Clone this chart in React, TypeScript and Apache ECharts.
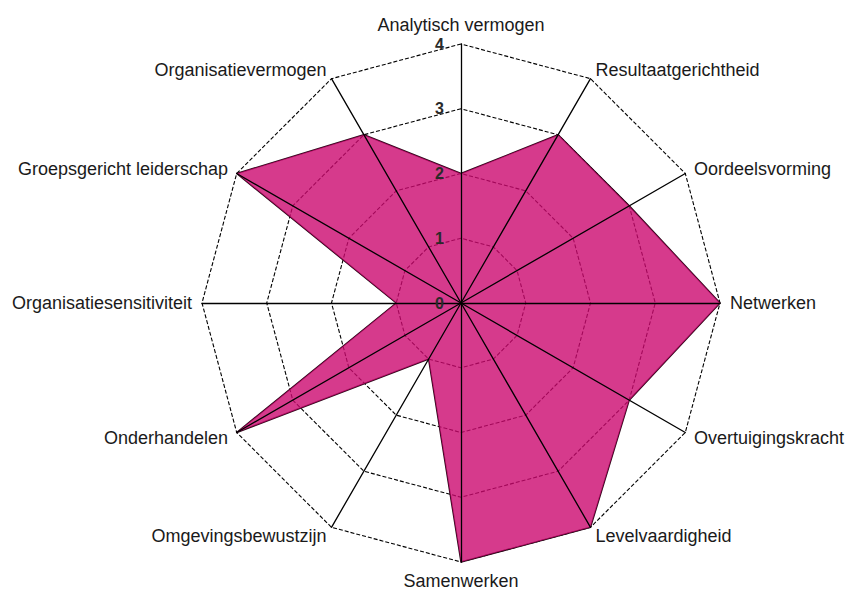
import React, { useEffect, useRef } from "react";
import * as echarts from "echarts";

// Indicators listed counter-clockwise from the top (ECharts radar order)
const indicatorNames = [
  "Analytisch vermogen",
  "Organisatievermogen",
  "Groepsgericht leiderschap",
  "Organisatiesensitiviteit",
  "Onderhandelen",
  "Omgevingsbewustzijn",
  "Samenwerken",
  "Levelvaardigheid",
  "Overtuigingskracht",
  "Netwerken",
  "Oordeelsvorming",
  "Resultaatgerichtheid",
];
const scores = [2, 3, 4, 1, 4, 1, 4, 4, 3, 4, 3, 3];
const scaleMax = 4;
const scaleSplits = 4;

const FONT = "Liberation Sans, Arial, sans-serif";

export default function App() {
  const ref = useRef<HTMLDivElement>(null);
  useEffect(() => {
    if (!ref.current) return;
    const chart = echarts.init(ref.current, undefined, { renderer: "svg" });
    const common = {
      center: [461, 303],
      radius: 259,
      startAngle: 90,
      shape: "polygon",
      splitNumber: scaleSplits,
      nameGap: 10,
      splitArea: { show: false },
      axisTick: { show: false },
    };
    chart.setOption({
      animation: false,
      backgroundColor: "#ffffff",
      radar: [
        {
          // lower layer: dashed rings (under the fill)
          ...common,
          z: 1,
          axisName: { show: false },
          axisLine: { show: false },
          splitLine: {
            show: true,
            lineStyle: { color: "#000000", width: 1.1, type: [4, 2] },
          },
          axisLabel: { show: false },
          indicator: indicatorNames.map((name) => ({ name, min: 0, max: scaleMax })),
        },
        {
          // upper layer: spokes, names and tick labels (over the fill)
          ...common,
          z: 5,
          axisName: { color: "#1a1a1a", fontSize: 18, fontFamily: FONT },
          axisLine: { show: true, lineStyle: { color: "#000000", width: 1.3 } },
          splitLine: { show: false },
          axisLabel: { show: false },
          indicator: indicatorNames.map((name, i) => ({
            name,
            min: 0,
            max: scaleMax,
            ...(i === 0
              ? {
                  axisLabel: {
                    show: true,
                    margin: 17,
                    color: "#2a2a2a",
                    fontSize: 16,
                    fontWeight: "bold",
                    fontFamily: FONT,
                  },
                }
              : {}),
          })),
        },
      ],
      series: [
        {
          type: "radar",
          radarIndex: 0,
          symbol: "none",
          z: 2,
          lineStyle: { color: "#2a0818", width: 1.5 },
          areaStyle: { color: "rgb(204,9,111)", opacity: 0.8 },
          data: [{ value: scores, name: "Score" }],
        },
      ],
    });
    return () => chart.dispose();
  }, []);
  return (
    <div
      ref={ref}
      style={{ position: "fixed", left: 0, top: 0, width: 850, height: 593 }}
    />
  );
}
